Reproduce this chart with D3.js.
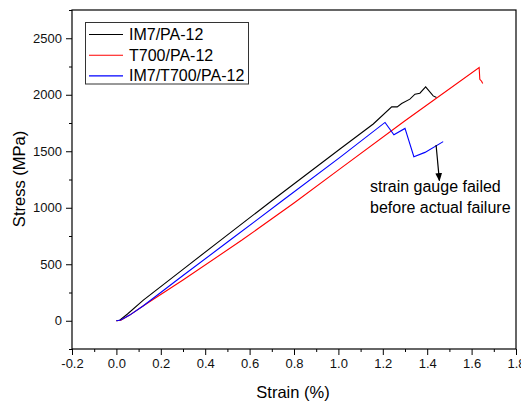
<!DOCTYPE html>
<html>
<head>
<meta charset="utf-8">
<script src="https://cdn.jsdelivr.net/npm/d3@7"></script>
<style>
    body{ margin:0; background:white; font-family:Arial, "Liberation Sans", sans-serif; }
</style>
</head>
<body>
<div id="chart"></div>
<script>
    // data: [strain %, stress MPa]
    var im7 = [[0,0],[0.015,5],[0.05,60],[0.12,180],[0.3,455],[0.47,714],[0.7,1062],[1.007,1520],
               [1.157,1741],[1.24,1893],[1.265,1893],[1.285,1922],[1.322,1961],[1.345,2005],
               [1.367,2014],[1.393,2070],[1.427,1990],[1.442,1975]]
    var t700 = [[0,0],[0.02,5],[0.06,50],[0.12,130],[0.3,360],[0.564,712],[0.8,1042],[1.007,1344],
                [1.3,1770],[1.634,2240],[1.637,2137],[1.645,2120],[1.65,2099]]
    var hybrid = [[0,0],[0.02,6],[0.06,50],[0.12,130],[0.3,400],[0.511,712],[0.75,1066],[1.007,1446],
                  [1.21,1755],[1.25,1646],[1.30,1702],[1.34,1452],[1.39,1490],[1.472,1585]]
    var seriesNames = ["IM7/PA-12","T700/PA-12","IM7/T700/PA-12"]
    var seriesColors = ["black","red","blue"]
    var xTicks = [-0.2,0.0,0.2,0.4,0.6,0.8,1.0,1.2,1.4,1.6,1.8]
    var yTicks = [0,500,1000,1500,2000,2500]
    var noteLines = ["strain gauge failed","before actual failure"]

    var width = 521, height = 403
    var x = d3.scaleLinear().domain([-0.2,1.8]).range([72,516])
    var y = d3.scaleLinear().domain([-250,2750]).range([349,10])

    var svg = d3.select("#chart").append("svg")
        .attr("width",width).attr("height",height)

    svg.append("defs").append("marker")
        .attr("id","arr").attr("viewBox","0 0 10 10")
        .attr("refX",9).attr("refY",5)
        .attr("markerWidth",7).attr("markerHeight",9)
        .attr("orient","auto")
        .append("path").attr("d","M0,1 L10,5 L0,9 Z").attr("fill","black")

    // lines
    var line = d3.line().x(d => x(d[0])).y(d => y(d[1]))
    var all = [im7,t700,hybrid]
    all.forEach(function(s,i){
        svg.append("path").attr("d",line(s))
            .attr("fill","none").attr("stroke",seriesColors[i]).attr("stroke-width",1.1)
    })

    // axes
    var xAxis = d3.axisBottom(x).tickValues(xTicks).tickSize(6).tickPadding(4)
        .tickFormat(d => d.toFixed(1))
    var xMinor = d3.axisBottom(x).tickValues(d3.range(-0.1,1.8,0.2)).tickSize(3).tickFormat("")
    var yAxis = d3.axisLeft(y).tickValues(yTicks).tickSize(6).tickPadding(4)
        .tickFormat(d => String(d))
    var yMinor = d3.axisLeft(y).tickValues(d3.range(-250,2751,500)).tickSize(3).tickFormat("")

    svg.append("g").attr("transform","translate(0,349)").call(xAxis)
    svg.append("g").attr("transform","translate(0,349)").call(xMinor)
    svg.append("g").attr("transform","translate(72,0)").call(yAxis)
    svg.append("g").attr("transform","translate(72,0)").call(yMinor)
    svg.selectAll(".domain").remove()
    svg.selectAll(".tick text").attr("font-size",13).attr("font-family","Arial, 'Liberation Sans', sans-serif").attr("fill","#111")

    svg.append("rect").attr("x",72).attr("y",10).attr("width",444).attr("height",339)
        .attr("fill","none").attr("stroke","black").attr("stroke-width",1.2)

    // axis titles
    svg.append("text").text("Strain (%)").attr("x",293).attr("y",398)
        .attr("text-anchor","middle").attr("font-size",16.5)
    svg.append("text").text("Stress (MPa)")
        .attr("transform","translate(25,179) rotate(-90)")
        .attr("text-anchor","middle").attr("font-size",16.5)

    // legend
    svg.append("rect").attr("x",85.5).attr("y",22.5).attr("width",163).attr("height",61.5)
        .attr("fill","white").attr("stroke","#333").attr("stroke-width",1)
    seriesNames.forEach(function(n,i){
        var ly = 34.5 + i*20.7
        svg.append("line").attr("x1",89).attr("x2",123).attr("y1",ly).attr("y2",ly)
            .attr("stroke",seriesColors[i]).attr("stroke-width",1.1)
        svg.append("text").text(n).attr("x",129).attr("y",ly+5.5).attr("font-size",16)
    })

    // annotation
    noteLines.forEach(function(t,i){
        svg.append("text").text(t).attr("x",370).attr("y",192 + i*21).attr("font-size",16)
    })
    svg.append("line")
        .attr("x1",x(1.44)).attr("y1",y(1555))
        .attr("x2",x(1.455)).attr("y2",y(1240))
        .attr("stroke","black").attr("stroke-width",1.2)
        .attr("marker-end","url(#arr)")
</script>
</body>
</html>
